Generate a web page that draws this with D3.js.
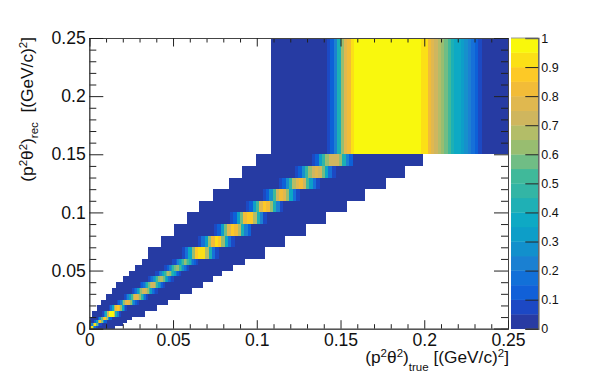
<!DOCTYPE html>
<html>
<head>
<meta charset="utf-8">
<script src="https://cdn.jsdelivr.net/npm/d3@7"></script>
<style>
  body { margin: 0; background: #fff; }
  text { font-family: "Liberation Sans", Arial, sans-serif; fill: #111; }
</style>
</head>
<body>
<svg id="Target" width="598" height="387"></svg>
<script>
// rec bin edges, bottom to top
const recEdges = [0, 0.0025, 0.005, 0.0075, 0.01, 0.015, 0.02, 0.025, 0.03, 0.035, 0.04, 0.045, 0.05, 0.055, 0.06,
  0.07, 0.08, 0.09, 0.1, 0.11, 0.12, 0.13, 0.14, 0.15, 0.25];

// filled range of true values in each rec bin
const rowFrom = [0, 0, 0, 0.0004, 0.0018, 0.0044, 0.0068, 0.01, 0.0136, 0.0159, 0.0201, 0.0237, 0.0273, 0.0312, 0.035,
  0.0426, 0.0508, 0.0585, 0.0657, 0.074, 0.0834, 0.091, 0.0995, 0.1082];
const rowTo = [0.0153, 0.0201, 0.0225, 0.0253, 0.0333, 0.0402, 0.047, 0.0542, 0.0611, 0.0677, 0.0737, 0.0792, 0.0858, 0.093, 0.1049,
  0.1168, 0.1294, 0.1412, 0.1537, 0.1646, 0.177, 0.1885, 0.1993, 0.25];

// where the peak cells begin, and how wide they are
const peakStart = [0, 0.001, 0.003, 0.005, 0.0075, 0.0115, 0.0163, 0.0208, 0.0255, 0.03, 0.035, 0.0395, 0.0445, 0.0495, 0.0552,
  0.0649, 0.0745, 0.084, 0.0936, 0.1035, 0.1133, 0.1228, 0.133, 0.142];
const peakStep = [0.001, 0.001, 0.001, 0.001, 0.001, 0.001, 0.001, 0.001, 0.001, 0.001, 0.001, 0.001, 0.001, 0.001, 0.002,
  0.002, 0.002, 0.002, 0.002, 0.002, 0.002, 0.002, 0.002, 0.002];

const peakValues = [
  [0.7, 0.9, 0.5, 0.15, 0.05],
  [0.2, 0.6, 0.9, 0.55, 0.2, 0.05],
  [0.1, 0.3, 0.65, 0.85, 0.6, 0.3, 0.1],
  [0.1, 0.25, 0.55, 0.8, 0.85, 0.65, 0.35, 0.12],
  [0.08, 0.2, 0.4, 0.7, 0.95, 0.98, 0.95, 0.7, 0.4, 0.2, 0.08],
  [0.07, 0.18, 0.35, 0.6, 0.82, 0.88, 0.82, 0.6, 0.35, 0.18, 0.07],
  [0.06, 0.12, 0.24, 0.42, 0.62, 0.78, 0.82, 0.78, 0.62, 0.42, 0.24, 0.12, 0.06],
  [0.06, 0.1, 0.2, 0.34, 0.5, 0.66, 0.76, 0.78, 0.74, 0.62, 0.46, 0.3, 0.16, 0.07],
  [0.06, 0.1, 0.18, 0.3, 0.46, 0.6, 0.72, 0.75, 0.72, 0.6, 0.45, 0.3, 0.18, 0.1, 0.06],
  [0.06, 0.1, 0.17, 0.28, 0.42, 0.56, 0.67, 0.72, 0.7, 0.6, 0.46, 0.32, 0.2, 0.11, 0.06],
  [0.06, 0.1, 0.16, 0.26, 0.38, 0.52, 0.63, 0.68, 0.66, 0.56, 0.43, 0.3, 0.19, 0.11, 0.06],
  [0.06, 0.09, 0.15, 0.24, 0.36, 0.48, 0.59, 0.65, 0.63, 0.54, 0.42, 0.3, 0.19, 0.11, 0.06],
  [0.06, 0.09, 0.14, 0.22, 0.33, 0.46, 0.56, 0.62, 0.6, 0.52, 0.4, 0.28, 0.18, 0.1, 0.06],
  [0.06, 0.09, 0.13, 0.2, 0.31, 0.44, 0.54, 0.6, 0.59, 0.51, 0.4, 0.28, 0.18, 0.1, 0.06],
  [0.07, 0.16, 0.36, 0.62, 0.86, 0.93, 0.9, 0.68, 0.4, 0.18, 0.07],
  [0.07, 0.15, 0.34, 0.6, 0.84, 0.9, 0.86, 0.64, 0.38, 0.17, 0.07],
  [0.07, 0.14, 0.3, 0.56, 0.78, 0.85, 0.83, 0.66, 0.42, 0.22, 0.1],
  [0.07, 0.14, 0.32, 0.58, 0.82, 0.88, 0.85, 0.66, 0.42, 0.2, 0.08],
  [0.07, 0.13, 0.3, 0.54, 0.76, 0.85, 0.82, 0.64, 0.4, 0.2, 0.08],
  [0.07, 0.13, 0.28, 0.5, 0.72, 0.8, 0.78, 0.6, 0.38, 0.18, 0.08],
  [0.07, 0.12, 0.26, 0.46, 0.68, 0.78, 0.8, 0.72, 0.52, 0.32, 0.16, 0.07],
  [0.07, 0.12, 0.26, 0.46, 0.64, 0.74, 0.76, 0.72, 0.56, 0.36, 0.18, 0.08],
  [0.07, 0.14, 0.3, 0.48, 0.62, 0.72, 0.74, 0.72, 0.6, 0.42, 0.24, 0.12],
  [0.07, 0.12, 0.22, 0.42, 0.6, 0.76, 0.84, 0.91, 0.97, 1, 1, 1, 1, 1, 1, 1, 1, 1, 1, 1, 1, 1, 1, 1, 1, 1, 1, 1,
    0.93, 0.92, 0.82, 0.77, 0.72, 0.68, 0.62, 0.57, 0.52, 0.44, 0.38, 0.36, 0.31, 0.27, 0.22, 0.17, 0.12, 0.07]
];

const axisTicks = [0, 0.05, 0.1, 0.15, 0.2, 0.25];
const axisMinor = [0.01, 0.02, 0.03, 0.04, 0.06, 0.07, 0.08, 0.09, 0.11, 0.12, 0.13, 0.14, 0.16, 0.17, 0.18, 0.19, 0.21, 0.22, 0.23, 0.24];
const barTicks = [0, 0.1, 0.2, 0.3, 0.4, 0.5, 0.6, 0.7, 0.8, 0.9, 1];
const barColors = ["#283ba3", "#1c48c4", "#1160d8", "#1270d8", "#1a80d2", "#1290cc", "#0d9ec8", "#0ea9c4", "#1fb0b5", "#33b5a5",
  "#40b99a", "#70bd85", "#98bd70", "#b3bd68", "#cfb65e", "#e0b84f", "#f2bc38", "#fdc926", "#fbe016", "#f9f80b"];

const svg = d3.select("#Target");

const x = d3.scaleLinear().domain([0, 0.25]).range([89.3, 508]);
const y = d3.scaleLinear().domain([0, 0.25]).range([328.7, 38]);
const z = d3.scaleLinear().domain([0, 1]).range([328.7, 38]);
const colorScale = d3.scaleQuantize().domain([0, 1]).range(barColors);

// the reference image is slightly soft, a small blur smooths the cell steps
svg.append("defs").append("filter")
  .attr("id", "soft")
  .attr("x", "-2%").attr("y", "-2%").attr("width", "104%").attr("height", "104%")
  .append("feGaussianBlur")
  .attr("stdDeviation", "0.7 0.3");

const heat = svg.append("g").attr("filter", "url(#soft)");

// base of each rec bin
heat.append("g").selectAll("rect")
  .data(rowFrom)
  .enter()
  .append("rect")
  .attr("shape-rendering", "crispEdges")
  .attr("x", (d) => x(d))
  .attr("width", (d, i) => x(rowTo[i]) - x(d))
  .attr("y", (d, i) => y(recEdges[i + 1]))
  .attr("height", (d, i) => y(recEdges[i]) - y(recEdges[i + 1]))
  .attr("fill", colorScale(0));

// peak cells
const cells = peakValues.flatMap((vals, row) => vals.map((v, k) => ({ row, k, v })));
heat.append("g").selectAll("rect")
  .data(cells)
  .enter()
  .append("rect")
  .attr("shape-rendering", "crispEdges")
  .attr("x", (d) => x(peakStart[d.row] + d.k * peakStep[d.row]))
  .attr("width", (d) => x(peakStep[d.row]) - x(0) + 0.5)
  .attr("y", (d) => y(recEdges[d.row + 1]))
  .attr("height", (d) => y(recEdges[d.row]) - y(recEdges[d.row + 1]))
  .attr("fill", (d) => colorScale(d.v));

// colour bar
svg.append("g").selectAll("rect")
  .data(barColors)
  .enter()
  .append("rect")
  .attr("x", 511)
  .attr("width", 27.3)
  .attr("y", (d, i) => z((i + 1) / barColors.length))
  .attr("height", (d, i) => z(i / barColors.length) - z((i + 1) / barColors.length) + 0.3)
  .attr("fill", (d) => d);

const styleAxis = (g) => {
  g.selectAll("path").attr("stroke", "#444").attr("stroke-width", 1);
  g.selectAll("line").attr("stroke", "#222").attr("stroke-width", 1);
  g.selectAll("text").attr("font-size", 17.6).attr("fill", "#111");
};

const addAxis = (axis, tx, ty) => svg.append("g")
  .attr("transform", `translate(${tx},${ty})`)
  .call(axis)
  .call(styleAxis);

const fmt = d3.format("~g");

// major and minor ticks on all four sides of the frame
addAxis(d3.axisBottom(x).tickValues(axisMinor).tickSize(-4.5).tickFormat(""), 0, 328.7);
addAxis(d3.axisTop(x).tickValues(axisMinor).tickSize(-4.5).tickFormat(""), 0, 38);
addAxis(d3.axisLeft(y).tickValues(axisMinor).tickSize(-7).tickFormat(""), 89.3, 0);
addAxis(d3.axisRight(y).tickValues(axisMinor).tickSize(-7).tickFormat(""), 508, 0);
addAxis(d3.axisTop(x).tickValues(axisTicks).tickSize(-8.5).tickFormat(""), 0, 38);
addAxis(d3.axisRight(y).tickValues(axisTicks).tickSize(-14).tickFormat(""), 508, 0);
addAxis(d3.axisBottom(x).tickValues(axisTicks).tickSize(-8.5).tickPadding(7).tickFormat(fmt), 0, 328.7)
  .selectAll("text").attr("y", 17.5).attr("dy", 0);
addAxis(d3.axisLeft(y).tickValues(axisTicks).tickSize(-14).tickPadding(3.5).tickFormat(fmt), 89.3, 0);

const barAxis = addAxis(d3.axisRight(z).tickValues(barTicks).tickSize(-13).tickPadding(3).tickFormat(fmt), 538.3, 0);
barAxis.selectAll("text").attr("font-size", 12.5);
barAxis.select("path").attr("stroke", "#666").attr("stroke-width", 1.5);

svg.append("line").attr("x1", 511).attr("x2", 538.3).attr("y1", 38).attr("y2", 38).attr("stroke", "#999");

// axis titles with their sub and superscripts
const addTitle = (node, parts) => {
  parts.forEach((p) => {
    node.append("tspan")
      .attr("dy", p.dy || 0)
      .attr("font-size", p.size || 17.3)
      .text(p.t);
  });
};

const titleX = svg.append("text")
  .attr("x", 509)
  .attr("y", 362.5)
  .attr("text-anchor", "end")
  .attr("xml:space", "preserve");
addTitle(titleX, [
  { t: "(p" }, { t: "2", size: 11.5, dy: -6 }, { t: "θ", dy: 6 }, { t: "2", size: 11.5, dy: -6 }, { t: ")", dy: 6 },
  { t: "true", size: 11.5, dy: 8.5 }, { t: " [(GeV/c)", dy: -8.5 }, { t: "2", size: 11.5, dy: -6 }, { t: "]", dy: 6 }
]);

const titleY = svg.append("text")
  .attr("transform", "translate(33,37) rotate(-90)")
  .attr("text-anchor", "end")
  .attr("xml:space", "preserve");
addTitle(titleY, [
  { t: "(p" }, { t: "2", size: 11.5, dy: -6 }, { t: "θ", dy: 6 }, { t: "2", size: 11.5, dy: -6 }, { t: ")", dy: 6 },
  { t: "rec", size: 11.5, dy: 5 }, { t: "  [(GeV/c)", dy: -5 }, { t: "2", size: 11.5, dy: -6 }, { t: "]", dy: 6 }
]);
</script>
</body>
</html>
